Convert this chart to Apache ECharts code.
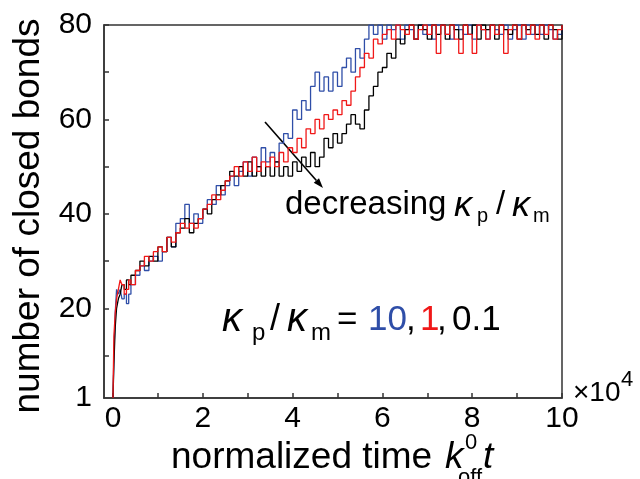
<!DOCTYPE html>
<html>
<head>
<meta charset="utf-8">
<script src="https://cdn.jsdelivr.net/npm/echarts@6/dist/echarts.min.js"></script>
<style>
  html, body { margin: 0; padding: 0; background: #fff; }
  #chart { width: 640px; height: 479px; }
</style>
</head>
<body>
<div id="chart"></div>
<script>
// normalized time (x10^4)
const times = [0, 0.02, 0.05, 0.08, 0.12, 0.16, 0.2, 0.25, 0.3, 0.35, 0.4,
  0.5, 0.6, 0.7, 0.8, 0.9, 1.0, 1.1, 1.2, 1.3, 1.4,
  1.5, 1.6, 1.7, 1.8, 1.9, 2.0, 2.1, 2.2, 2.3, 2.4,
  2.5, 2.6, 2.7, 2.8, 2.9, 3.0, 3.1, 3.2, 3.3, 3.4,
  3.5, 3.6, 3.7, 3.8, 3.9, 4.0, 4.1, 4.2, 4.3, 4.4,
  4.5, 4.6, 4.7, 4.8, 4.9, 5.0, 5.1, 5.2, 5.3, 5.4,
  5.5, 5.6, 5.7, 5.8, 5.9, 6.0, 6.1, 6.2, 6.3, 6.4,
  6.5, 6.6, 6.7, 6.8, 6.9, 7.0, 7.1, 7.2, 7.3, 7.4,
  7.5, 7.6, 7.7, 7.8, 7.9, 8.0, 8.1, 8.2, 8.3, 8.4,
  8.5, 8.6, 8.7, 8.8, 8.9, 9.0, 9.1, 9.2, 9.3, 9.4,
  9.5, 9.6, 9.7, 9.8, 9.9, 10.0];

// kp/km = 10
const bondsBlue = [1, 10, 19, 24, 23, 24, 22, 23, 21, 23, 25,
  27, 29, 28, 30, 31, 30, 32, 35, 33, 38,
  39, 42, 38, 40, 38, 41, 43, 42, 46, 44,
  46, 48, 46, 49, 51, 48, 52, 50, 54, 51,
  53, 51, 55, 57, 56, 62, 60, 64, 62, 67,
  70, 66, 69, 66, 70, 67, 71, 73, 70, 75,
  73, 77, 80, 78, 80, 77, 80, 79, 80, 77,
  80, 79, 77, 80, 78, 80, 77, 80, 80, 78,
  77, 80, 79, 78, 80, 77, 80, 79, 77, 80,
  79, 78, 80, 77, 79, 80, 77, 80, 78, 80,
  78, 80, 79, 77, 78, 80];

// kp/km = 1
const bondsRed = [1, 14, 19, 22, 24, 26, 25, 23, 24, 26, 25,
  28, 29, 31, 30, 32, 33, 32, 35, 34, 36,
  38, 37, 38, 37, 39, 41, 42, 44, 43, 45,
  47, 48, 50, 48, 51, 49, 52, 49, 51, 50,
  52, 50, 53, 51, 54, 53, 56, 54, 58, 57,
  60, 58, 61, 60, 62, 61, 64, 63, 66, 69,
  71, 74, 73, 77, 76, 78, 79, 77, 80, 79,
  78, 80, 77, 79, 80, 78, 80, 74, 80, 78,
  80, 77, 74, 80, 78, 74, 80, 79, 77, 80,
  78, 80, 74, 79, 80, 77, 80, 78, 80, 77,
  80, 78, 80, 77, 79, 80];

// kp/km = 0.1
const bondsBlack = [1, 8, 16, 20, 22, 23, 25, 24, 26, 25, 27,
  28, 30, 29, 31, 30, 33, 32, 35, 33, 36,
  37, 39, 36, 38, 39, 41, 40, 43, 44, 46,
  47, 49, 48, 50, 48, 51, 48, 50, 48, 50,
  48, 51, 48, 50, 48, 51, 49, 52, 50, 53,
  50, 52, 56, 54, 57, 55, 57, 59, 61, 59,
  58, 62, 65, 67, 70, 71, 74, 73, 77, 76,
  79, 80, 77, 80, 79, 77, 80, 78, 80, 77,
  80, 79, 77, 80, 78, 80, 77, 80, 79, 80,
  77, 80, 79, 78, 80, 77, 80, 79, 80, 78,
  80, 77, 80, 79, 77, 80];

const xTicks = [0, 1, 2, 3, 4, 5, 6, 7, 8, 9, 10];
const xLabels = [0, 2, 4, 6, 8, 10];
const yTicks = [10, 20, 30, 40, 50, 60, 70, 80];
const yLabels = [1, 20, 40, 60, 80];

const FONT = '"Liberation Sans", Arial, sans-serif';
const frameColor = '#333';
const blue = '#2f4ea8';
const red = '#f01818';

function pairs(vals) {
  return times.map((t, i) => [t, vals[i]]);
}

// text piece, positioned by its left edge and vertical middle
function txt(x, y, s, size, opts) {
  opts = opts || {};
  return {
    type: 'text',
    x: x, y: y,
    rotation: opts.rotation || 0,
    style: {
      text: s,
      fontSize: size,
      fontFamily: FONT,
      fontStyle: opts.italic ? 'italic' : 'normal',
      fill: opts.color || '#000',
      align: opts.align || 'left',
      verticalAlign: 'middle'
    }
  };
}

function arrow(x1, y1, x2, y2) {
  const dx = x2 - x1, dy = y2 - y1;
  const len = Math.sqrt(dx * dx + dy * dy);
  const ux = dx / len, uy = dy / len;
  const bx = x2 - ux * 10, by = y2 - uy * 10;
  return [
    { type: 'line', shape: { x1: x1, y1: y1, x2: bx, y2: by }, style: { stroke: '#000', lineWidth: 1.6 } },
    { type: 'polygon', shape: { points: [[x2, y2], [bx - uy * 3.5, by + ux * 3.5], [bx + uy * 3.5, by - ux * 3.5]] }, style: { fill: '#000' } }
  ];
}

const chart = echarts.init(document.getElementById('chart'));

const lineSeries = (name, vals, color) => ({
  name: name,
  type: 'line',
  step: 'end',
  data: pairs(vals),
  showSymbol: false,
  lineStyle: { color: color, width: 1.3 }
});

const option = {
  animation: false,
  backgroundColor: '#fff',
  grid: {
    left: 104, right: 78, top: 25, bottom: 81,
    show: true, borderColor: frameColor, borderWidth: 1.5
  },
  xAxis: {
    type: 'value',
    min: -0.2, max: 10,
    axisLine: { show: true, onZero: false, lineStyle: { color: frameColor, width: 1.5 } },
    axisTick: { show: true, inside: true, length: 5, customValues: xTicks, lineStyle: { color: frameColor, width: 1.5 } },
    axisLabel: { customValues: xLabels, color: '#000', fontSize: 30, fontFamily: FONT, margin: 6 },
    splitLine: { show: false }
  },
  yAxis: {
    type: 'value',
    min: 1, max: 80,
    axisLine: { show: true, onZero: false, lineStyle: { color: frameColor, width: 1.5 } },
    axisTick: { show: true, inside: true, length: 5, customValues: yTicks, lineStyle: { color: frameColor, width: 1.5 } },
    axisLabel: { customValues: yLabels, color: '#000', fontSize: 30, fontFamily: FONT, margin: 12 },
    splitLine: { show: false }
  },
  series: [
    lineSeries('10', bondsBlue, blue),
    lineSeries('0.1', bondsBlack, '#000'),
    lineSeries('1', bondsRed, red)
  ],
  graphic: [
    // axis titles
    txt(29, 216, 'number of closed bonds', 37, { rotation: Math.PI / 2, align: 'center' }),
    txt(171, 458, 'normalized time', 37),
    txt(445, 458, 'k', 37, { italic: true }),
    txt(465, 443, '0', 22),
    txt(458, 478, 'off', 22),
    txt(483, 458, 't', 37, { italic: true }),
    // x10^4
    txt(573, 393, '×10', 28),
    txt(621, 380, '4', 22),
    // decreasing kp/km
    txt(285, 205, 'decreasing', 33),
    txt(454, 206, 'κ', 36, { italic: true }),
    txt(477, 216, 'p', 20),
    txt(496, 205, '/', 33),
    txt(512, 206, 'κ', 36, { italic: true }),
    txt(533, 216, 'm', 20),
    // kp/km = 10, 1, 0.1
    txt(222, 320, 'κ', 40, { italic: true }),
    txt(252, 333, 'p', 24),
    txt(270, 320, '/', 36),
    txt(287, 320, 'κ', 40, { italic: true }),
    txt(311, 333, 'm', 24),
    txt(337, 320, '=', 35),
    txt(368, 320, '10', 35, { color: blue }),
    txt(406, 320, ',', 35),
    txt(420, 320, '1', 35, { color: red }),
    txt(437, 320, ',', 35),
    txt(452, 320, '0.1', 35)
  ].concat(arrow(265, 122, 323, 188))
};

chart.setOption(option);
</script>
</body>
</html>
